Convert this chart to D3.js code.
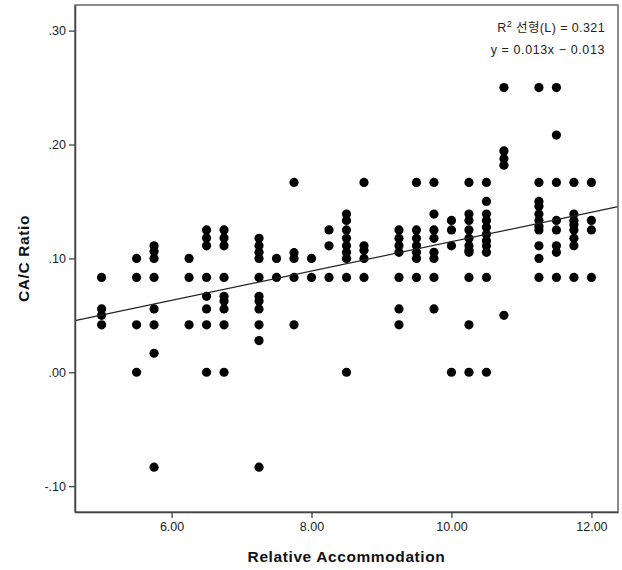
<!DOCTYPE html>
<html>
<head>
<meta charset="utf-8">
<script src="https://cdn.jsdelivr.net/npm/d3@7"></script>
<style>
  html, body { margin: 0; padding: 0; background: #fff; }
  svg { display: block; font-family: "Liberation Sans", Arial, "Noto Sans CJK KR", sans-serif; }
</style>
</head>
<body>
<svg id="chart" width="622" height="570"></svg>
<script>
// Relative accommodation columns and the CA/C ratios observed at each one
const accom = [5.0, 5.5, 5.75, 6.25, 6.5, 6.75, 7.25, 7.5, 7.75, 8.0, 8.25, 8.5, 8.75,
               9.25, 9.5, 9.75, 10.0, 10.25, 10.5, 10.75, 11.25, 11.5, 11.75, 12.0];
const ratios = [
    [0.0833, 0.0556, 0.05, 0.0417],
    [0.1, 0.0833, 0.0417, 0],
    [0.111, 0.106, 0.1, 0.0833, 0.0556, 0.0417, 0.0167, -0.0833],
    [0.1, 0.0833, 0.0417],
    [0.125, 0.118, 0.111, 0.0833, 0.0667, 0.0556, 0.0417, 0],
    [0.125, 0.118, 0.111, 0.0833, 0.0667, 0.0625, 0.0556, 0.0417, 0],
    [0.1176, 0.111, 0.1053, 0.1, 0.0833, 0.0667, 0.0625, 0.0556, 0.0417, 0.0278, -0.0833],
    [0.1, 0.0833],
    [0.1667, 0.105, 0.1, 0.0833, 0.0417],
    [0.1, 0.0833],
    [0.125, 0.111, 0.0833],
    [0.1389, 0.1333, 0.125, 0.1176, 0.111, 0.1053, 0.1, 0.0833, 0],
    [0.1667, 0.111, 0.1071, 0.1, 0.0833],
    [0.125, 0.1176, 0.111, 0.1053, 0.0833, 0.0556, 0.0417],
    [0.1667, 0.125, 0.1176, 0.1111, 0.1053, 0.1, 0.0833],
    [0.1667, 0.1389, 0.125, 0.1176, 0.1053, 0.1, 0.0833, 0.0556],
    [0.1333, 0.125, 0.111, 0],
    [0.1667, 0.1389, 0.1333, 0.125, 0.1176, 0.1111, 0.1071, 0.1053, 0.0833, 0.0417, 0],
    [0.1667, 0.15, 0.1389, 0.1333, 0.1273, 0.1212, 0.1154, 0.1111, 0.1053, 0.0833, 0],
    [0.25, 0.1944, 0.1875, 0.1818, 0.05],
    [0.25, 0.1667, 0.15, 0.1458, 0.1389, 0.1333, 0.1282, 0.125, 0.111, 0.1, 0.0833],
    [0.25, 0.2083, 0.1667, 0.1333, 0.125, 0.111, 0.1053, 0.0833],
    [0.1667, 0.1389, 0.1333, 0.1296, 0.125, 0.1176, 0.1111, 0.0833],
    [0.1667, 0.1333, 0.125, 0.0833]
];

const xTicks = [6, 8, 10, 12];
const yTicks = [-0.1, 0, 0.1, 0.2, 0.3];

// Linear fit as drawn (R² = 0.321)
const fitSlope = 0.0129;
const fitIntercept = -0.0143;
const fitLabels = ["R2 선형(L) = 0.321", "y = 0.013x − 0.013"];

const svg = d3.select("#chart");
const margin = { top: 5, right: 4, bottom: 58, left: 75 };
const width = 622 - margin.left - margin.right;
const height = 570 - margin.top - margin.bottom;

const x = d3.scaleLinear().domain([4.62, 12.38]).range([0, width]);
const y = d3.scaleLinear().domain([-0.1227, 0.3225]).range([height, 0]);

const g = svg.append("g").attr("transform", `translate(${margin.left},${margin.top})`);

// points
const points = accom.flatMap((a, i) => ratios[i].map(r => ({ a, r })));

g.append("g")
    .selectAll("circle")
    .data(points)
    .join("circle")
    .attr("cx", d => x(d.a))
    .attr("cy", d => y(d.r))
    .attr("r", 4.6)
    .attr("fill", "#000");

// fit line
const xs = x.domain();
g.append("line")
    .attr("x1", x(xs[0]))
    .attr("y1", y(fitSlope * xs[0] + fitIntercept))
    .attr("x2", x(xs[1]))
    .attr("y2", y(fitSlope * xs[1] + fitIntercept))
    .attr("stroke", "#222")
    .attr("stroke-width", 1.2);

// frame
g.append("rect")
    .attr("x", 0).attr("y", 0)
    .attr("width", width).attr("height", height)
    .attr("fill", "none")
    .attr("stroke", "#666")
    .attr("stroke-width", 1.5);

// axes (SPSS style: ".10", "-.10")
const fmtY = v => d3.format(".2f")(v).replace("\u2212", "-").replace("0.", ".");
const yAxis = g.append("g")
    .call(d3.axisLeft(y).tickValues(yTicks).tickFormat(fmtY)
        .tickSizeInner(6).tickSizeOuter(0).tickPadding(3));
const xAxis = g.append("g")
    .attr("transform", `translate(0,${height})`)
    .call(d3.axisBottom(x).tickValues(xTicks).tickFormat(d3.format(".2f"))
        .tickSizeInner(6).tickSizeOuter(0).tickPadding(4));

[xAxis, yAxis].forEach(ax => {
    ax.select(".domain").attr("stroke", "#444").attr("stroke-width", 1.5);
    ax.selectAll(".tick line").attr("stroke", "#444").attr("stroke-width", 1.3);
    ax.selectAll(".tick text")
        .attr("fill", "#222")
        .style("font-size", "12.5px")
        .style("font-family", "'Liberation Sans', Arial, sans-serif");
});

// axis titles
svg.append("text")
    .attr("x", margin.left + width / 2)
    .attr("y", 562)
    .attr("text-anchor", "middle")
    .style("font-size", "15.5px")
    .style("letter-spacing", "0.6px")
    .style("font-weight", "bold")
    .attr("fill", "#111")
    .text("Relative Accommodation");

svg.append("text")
    .attr("transform", `translate(29,${margin.top + height / 2}) rotate(-90)`)
    .attr("text-anchor", "middle")
    .style("font-size", "15.5px")
    .style("letter-spacing", "0.6px")
    .style("font-weight", "bold")
    .attr("fill", "#111")
    .text("CA/C Ratio");

// fit annotation
const note1 = svg.append("text")
    .attr("x", 605).attr("y", 32)
    .attr("text-anchor", "end")
    .style("font-size", "12.5px")
    .style("letter-spacing", "0.4px")
    .attr("fill", "#222");
note1.append("tspan").text("R");
note1.append("tspan").attr("dy", -5).style("font-size", "9px").text("2");
note1.append("tspan").attr("dy", 5).text("  " + fitLabels[0].slice(3));

svg.append("text")
    .attr("x", 605).attr("y", 54)
    .attr("text-anchor", "end")
    .style("font-size", "12.5px")
    .style("letter-spacing", "0.6px")
    .attr("fill", "#222")
    .text(fitLabels[1]);
</script>
</body>
</html>
